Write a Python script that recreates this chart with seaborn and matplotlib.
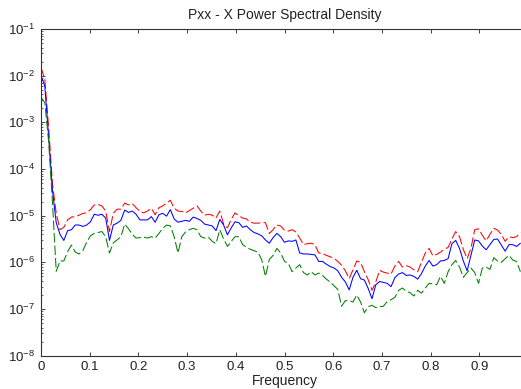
import numpy as np
import pandas as pd
import matplotlib
matplotlib.use("Agg")
import matplotlib.pyplot as plt
import seaborn as sns
from matplotlib.ticker import NullFormatter, FixedLocator, LogFormatterSciNotation

# Normalised frequency bins (step 1/128)
freq = np.arange(127) / 128

# log10 of the power spectral density estimates
pxx_upper_log10 = [
    -1.82, -2.08, -3.10, -4.30, -4.95, -5.30, -5.25, -5.09, -5.03, -5.02,
    -4.99, -4.95, -4.94, -4.87, -4.77, -4.76, -4.79, -4.90, -5.34, -4.95,
    -4.86, -4.86, -4.73, -4.77, -4.74, -4.83, -4.91, -4.94, -4.90, -4.84,
    -4.98, -4.83, -4.79, -4.73, -4.67, -4.84, -4.90, -4.91, -4.94, -4.89,
    -4.84, -4.79, -4.90, -4.99, -4.97, -4.99, -5.05, -4.90, -5.18, -5.26,
    -5.08, -4.94, -5.00, -5.05, -5.07, -5.14, -5.16, -5.16, -5.15, -5.15,
    -5.38, -5.30, -5.20, -5.22, -5.31, -5.33, -5.30, -5.35, -5.48, -5.62,
    -5.60, -5.59, -5.62, -5.80, -5.81, -5.85, -5.88, -5.91, -5.98, -6.06,
    -6.18, -6.35, -6.16, -5.97, -6.00, -6.20, -6.37, -6.60, -6.42, -6.17,
    -6.21, -6.23, -6.25, -6.08, -5.98, -6.10, -6.07, -6.10, -6.16, -6.20,
    -6.00, -5.80, -5.70, -5.86, -5.83, -5.78, -5.72, -5.68, -5.50, -5.34,
    -5.45, -5.72, -5.92, -5.70, -5.30, -5.28, -5.42, -5.54, -5.40, -5.27,
    -5.31, -5.40, -5.55, -5.45, -5.47, -5.45, -5.36,
]

pxx_log10 = [
    -2.00, -2.22, -3.30, -4.45, -5.15, -5.40, -5.53, -5.32, -5.30, -5.20,
    -5.20, -5.23, -5.20, -5.13, -4.97, -4.99, -4.97, -5.05, -5.53, -5.20,
    -5.16, -5.10, -4.88, -4.93, -4.90, -4.97, -5.09, -5.09, -5.09, -5.02,
    -5.14, -4.98, -4.95, -5.01, -4.87, -5.07, -5.14, -5.12, -5.10, -5.12,
    -5.03, -5.06, -5.10, -5.18, -5.20, -5.22, -5.32, -5.08, -5.20, -5.41,
    -5.26, -5.13, -5.15, -5.25, -5.22, -5.30, -5.36, -5.39, -5.43, -5.52,
    -5.59, -5.47, -5.38, -5.45, -5.57, -5.54, -5.55, -5.52, -5.80, -5.82,
    -5.82, -5.83, -5.84, -5.98, -5.98, -6.04, -6.09, -6.12, -6.18, -6.32,
    -6.42, -6.59, -6.32, -6.17, -6.35, -6.38, -6.56, -6.78, -6.48, -6.41,
    -6.43, -6.45, -6.52, -6.33, -6.25, -6.22, -6.28, -6.27, -6.30, -6.36,
    -6.24, -6.08, -5.96, -6.08, -6.05, -5.97, -5.96, -5.92, -5.60, -5.53,
    -5.70, -5.97, -6.18, -5.85, -5.52, -5.54, -5.65, -5.73, -5.62, -5.51,
    -5.50, -5.63, -5.76, -5.62, -5.62, -5.66, -5.59,
]

pxx_lower_log10 = [
    -2.46, -2.58, -3.40, -4.70, -6.19, -5.97, -5.97, -5.77, -5.63, -5.78,
    -5.82, -5.75, -5.57, -5.43, -5.38, -5.36, -5.34, -5.45, -5.80, -5.58,
    -5.52, -5.45, -5.18, -5.28, -5.40, -5.48, -5.47, -5.46, -5.48, -5.45,
    -5.48, -5.38, -5.27, -5.20, -5.22, -5.45, -5.80, -5.45, -5.35, -5.30,
    -5.27, -5.30, -5.45, -5.48, -5.46, -5.55, -5.60, -5.30, -5.50, -5.66,
    -5.55, -5.45, -5.45, -5.62, -5.68, -5.72, -5.75, -5.78, -5.94, -6.30,
    -5.94, -5.85, -5.70, -5.80, -5.98, -6.02, -6.20, -6.12, -6.05, -6.22,
    -6.27, -6.20, -6.27, -6.23, -6.28, -6.36, -6.42, -6.50, -6.58, -6.94,
    -6.82, -6.82, -6.85, -6.70, -6.85, -7.08, -6.95, -6.92, -6.97, -6.95,
    -6.94, -6.84, -6.80, -6.75, -6.60, -6.55, -6.62, -6.65, -6.72, -6.60,
    -6.66, -6.55, -6.45, -6.46, -6.48, -6.30, -6.45, -6.20, -6.05, -5.96,
    -6.10, -6.32, -6.22, -6.12, -6.22, -6.45, -6.12, -6.10, -6.15, -5.90,
    -5.97, -6.00, -5.92, -5.85, -5.95, -5.98, -6.20,
]

x_ticks = [0, 0.1, 0.2, 0.3, 0.4, 0.5, 0.6, 0.7, 0.8, 0.9]
x_tick_labels = ["0", "0.1", "0.2", "0.3", "0.4", "0.5", "0.6", "0.7", "0.8", "0.9"]
y_decades = [-8, -7, -6, -5, -4, -3, -2, -1]

df = pd.DataFrame({
    "freq": freq,
    "upper": 10.0 ** np.array(pxx_upper_log10),
    "pxx": 10.0 ** np.array(pxx_log10),
    "lower": 10.0 ** np.array(pxx_lower_log10),
})

sns.set_style("ticks")
plt.rcParams["font.family"] = ["Liberation Sans", "DejaVu Sans"]
plt.rcParams["axes.unicode_minus"] = False
plt.rcParams["xtick.direction"] = "in"
plt.rcParams["ytick.direction"] = "in"

fig = plt.figure(figsize=(5.21, 3.89), dpi=100)
W, H = 521.0, 389.0
ax = fig.add_axes([41 / W, 33.3 / H, 487 / W, 326.7 / H])

sns.lineplot(data=df, x="freq", y="upper", ax=ax, color="#ff0000",
             linewidth=0.75, estimator=None, sort=False)
ax.lines[-1].set_dashes((9, 3))
sns.lineplot(data=df, x="freq", y="pxx", ax=ax, color="#0000ff",
             linewidth=0.75, estimator=None, sort=False)
sns.lineplot(data=df, x="freq", y="lower", ax=ax, color="#008000",
             linewidth=0.75, estimator=None, sort=False)
ax.lines[-1].set_dashes((9, 3))

ax.set_yscale("log")
ax.set_xlim(0, 1)
ax.set_ylim(1e-8, 1e-1)

# decade ticks only inside the visible range, with 2..9 minor ticks between them
major_y = [10.0 ** d for d in y_decades]
minor_y = [m * 10.0 ** d for d in y_decades[:-1] for m in range(2, 10)]
ax.yaxis.set_major_locator(FixedLocator(major_y))
ax.yaxis.set_major_formatter(LogFormatterSciNotation())
ax.yaxis.set_minor_locator(FixedLocator(minor_y))
ax.yaxis.set_minor_formatter(NullFormatter())
ax.xaxis.set_major_locator(FixedLocator(x_ticks))
ax.set_xticklabels(x_tick_labels)

ax.tick_params(axis="both", which="major", length=3.2, width=0.6,
               labelsize=9.5, colors="#222222", top=True, right=True, pad=4)
ax.tick_params(axis="y", which="minor", length=1.6, width=0.5, right=True)
for s in ax.spines.values():
    s.set_linewidth(0.8)
    s.set_color("#333333")

ax.set_title("Pxx - X Power Spectral Density", fontsize=10, pad=7, color="#222222")
ax.set_xlabel("Frequency", fontsize=10, labelpad=0.5, color="#222222")
ax.set_ylabel(None)

fig.savefig("out.png", dpi=100)
